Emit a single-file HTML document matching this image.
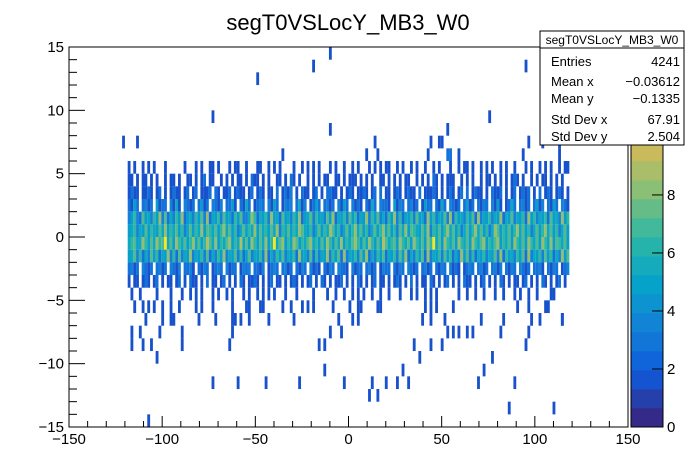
<!DOCTYPE html>
<html><head><meta charset="utf-8">
<style>
html,body{margin:0;padding:0;background:#fff;}
svg{display:block;font-family:"Liberation Sans",sans-serif;}
</style></head>
<body>
<svg id="c" width="698" height="476" viewBox="0 0 698 476">
<rect width="698" height="476" fill="#fff"/>
<text x="348" y="30" font-size="22" text-anchor="middle">segT0VSLocY_MB3_W0</text>
<g id="cells"></g>
<g id="axes"></g>
<g id="cbar"></g>
<g>
<rect x="540" y="31" width="144" height="114" fill="#fff" stroke="#000" stroke-width="1"/>
<line x1="540" y1="48" x2="684" y2="48" stroke="#000"/>
<text x="612" y="44" font-size="12" text-anchor="middle">segT0VSLocY_MB3_W0</text>
<text x="551" y="66" font-size="13">Entries</text>
<text x="680" y="66" font-size="13" text-anchor="end">4241</text>
<text x="551" y="86" font-size="13">Mean x</text>
<text x="680" y="86" font-size="13" text-anchor="end">−0.03612</text>
<text x="551" y="103" font-size="13">Mean y</text>
<text x="680" y="103" font-size="13" text-anchor="end">−0.1335</text>
<text x="551" y="124" font-size="13">Std Dev x</text>
<text x="680" y="124" font-size="13" text-anchor="end">67.91</text>
<text x="551" y="141" font-size="13">Std Dev y</text>
<text x="680" y="141" font-size="13" text-anchor="end">2.504</text>
</g>
</svg>
<script>
// dense rows: y-bin lower edge -> counts per x-bin starting at bin 21 (x=-118.5), bin width 1.5
const denseRowY = [5,4,3,2,1,0,-1,-2,-3,-4];
const denseRows = [
"1.1..1.1.1...1......1...1.1..11.1...1.11..1...11..1.1.1....1..1.1.1.1...1.1..1..1.1...1.1.1.11..1.1..1.1..1..1.1...1..1.11.1..1.1.1..1.1..1...1.1..1.1.1..1.11",
"11.1.11.1.1..1.11.1..11.1.12.11..1.1.1.11.1.211.1.1..11.1.21.1..1.1.1.11..11.1.111.1.1.1..11.1.1.1.11..1.1.1.21.1.111..1.1.1..1.11.1.1.1.121.1..1.1.11.1.1.1",
"1211.1121.12.1.1211.12.12.1112.21.112.1211.12.121.11.2.1213.1.211.12.1.2211.1.121.1121.12.2.11.121.1211.2.11121.1.121.12.2.1211.1.2112.1.12.1212.1.2.121.121.1213",
"2142.2312.4122.3151.3212.2412.3213.2241.2152.1232.3142.1323.2513.1242.2312.3142.3121.2152.3221.4132.2312.1422.2152.3212.2412.2132.3141.1252.2312.2413.2142.3212.234",
"3463274536483725364824536473825463745264733586254638452745364824573645374825463746254836473526483625463745284635473826453647283546354825473546284635462745384625",
"4563547465475846574635746584765746857463574658475647583657465875463574658746357468574635746857463758476547583657468574635746857463587465746857463574685746357468",
"5674586475867c57486574685746975846578465957486475846c57846587465785647586475846578647586475975674865748657486c57486574865748657846578465748657486574865847657486",
"4573625374625483627354835463725364835473624735463825364735462845372635483647283546374825364725463748253647283546374625384736254635473826453647283546374625384736",
"2312.3212.2312.3213.2231.2132.1232.3122.1323.2213.1232.2312.2132.3121.2132.3221.3122.2312.1322.2132.3212.2312.2132.3121.1232.2312.2313.2132.3212.2231.2132.1232.3",
"1.11.121.12.1.11.12.1.211.1.2.11.12.1.1.21.1121.1.12.11.1.121.1.12.1.21.1.112.1.1.21.1.12.11.1.121.1.2.1.11.21.1.12.1.1.211.1.12.1.1.21.1.11.12.1.1.21.1.12.1.11"
];
// sparse outliers: x values, y-bin lower edges, counts
const outX = [-10.5,-19.5,95.4,-49.4,-73.3,76.1,-10.5,53.8,-121,-113.6,14.5,44.6,48.5,50,97,104.5,113,
-34.6,10.3,16.4,42.7,53.5,55,59.5,93.8,113.3,
-116.4,-111.8,-103.1,-95,-89.3,-84.2,-81.3,-78.5,-72.9,-69.9,-66,-61.9,-56.9,-52.7,-48.9,-46,-43.2,-40.3,-33.2,-27.9,-18.3,-10.7,-6.9,-1.9,2.6,5.5,8.4,12.2,17,21.7,27.4,33.2,36,40.8,43.7,46.5,59.9,63.7,68.5,73.2,79,83.7,88.5,92.3,96.1,100.9,108.5,110.4,
-115,-110.7,-107.6,-104.2,-100,-95.2,-91.2,-82.3,-79,-73.3,-61.7,-55.2,-53.7,-47.9,-45.4,-34.8,-31.1,-24.1,-21.1,-19.1,-7.7,1.3,4.6,7.4,16,17.9,41.6,44.7,46.6,56.5,91,96.8,105.9,107.4,
-109.2,-100.4,-94.6,-93.8,-80.7,-72,-62.2,-61.1,-58.2,-53.6,-43.5,-28.7,-4.6,2.6,4.5,40,44.6,51.8,71.3,83.5,98.4,103,114.1,115,
-116.4,-111.8,-101.5,-89.3,-63,-9.2,-3.1,53.4,56.6,59.8,64,67.3,82,96.8,
-116.4,-110.7,-106.1,-89.3,-64.5,-16.4,-13.4,35.8,44.6,50.3,95.2,
-103.1,38.5,77.4,
-12.2,29.4,72.9,
-72.2,-59.9,-44.9,-25.6,-1.6,13.3,20.6,26.7,32.8,70.2,89.3,
11.8,16.4,
86.2,110.2,
-107.6];
const outY = [14,13,13,12,9,9,8,8,7,7,7,7,7,7,7,7,7,
6,6,6,6,6,6,6,6,6,
-5,-5,-5,-5,-5,-5,-5,-5,-5,-5,-5,-5,-5,-5,-5,-5,-5,-5,-5,-5,-5,-5,-5,-5,-5,-5,-5,-5,-5,-5,-5,-5,-5,-5,-5,-5,-5,-5,-5,-5,-5,-5,-5,-5,-5,-5,-5,-5,
-6,-6,-6,-6,-6,-6,-6,-6,-6,-6,-6,-6,-6,-6,-6,-6,-6,-6,-6,-6,-6,-6,-6,-6,-6,-6,-6,-6,-6,-6,-6,-6,-6,-6,
-7,-7,-7,-7,-7,-7,-7,-7,-7,-7,-7,-7,-7,-7,-7,-7,-7,-7,-7,-7,-7,-7,-7,-7,
-8,-8,-8,-8,-8,-8,-8,-8,-8,-8,-8,-8,-8,-8,
-9,-9,-9,-9,-9,-9,-9,-9,-9,-9,-9,
-10,-10,-10,
-11,-11,-11,
-12,-12,-12,-12,-12,-12,-12,-12,-12,-12,-12,
-13,-13,
-14,-14,
-15];
const outC = [1,1,1,1,1,1,1,1,1,1,1,1,1,1,1,1,1, 1,1,1,1,2,2,1,1,1];
const xTicks = [-150,-100,-50,0,50,100,150];
const yTicks = [-15,-10,-5,0,5,10,15];
const zTicks = [0,2,4,6,8];
const zMax = 13.1, nCont = 20;

const NS = "http://www.w3.org/2000/svg";
const FX0=69, FX1=628, FY0=47, FY1=427;
const X = v => FX0 + (v+150)/300*(FX1-FX0);
const Y = v => FY1 - (v+15)/30*(FY1-FY0);
const stops=[0,.125,.25,.375,.5,.625,.75,.875,1];
const R=[.2082,.0592,.0780,.0232,.1802,.5301,.8186,.9956,.9764];
const G=[.1664,.3599,.5041,.6419,.7178,.7492,.7328,.7862,.9832];
const B=[.5293,.8684,.8385,.7914,.6425,.4662,.3499,.1968,.0539];
function bird(f){f=Math.max(0,Math.min(1,f));let i=0;while(i<7&&f>stops[i+1])i++;
 const t=(f-stops[i])/(stops[i+1]-stops[i]);const m=a=>Math.round(255*(a[i]+(a[i+1]-a[i])*t));
 return `rgb(${m(R)},${m(G)},${m(B)})`;}
function bandColor(k){return bird((k+0.99)/nCont);}
function colorOf(v){const k=Math.min(nCont-1,Math.floor(v/(zMax/nCont)));return bandColor(k);}
function mk(tag,attrs,parent){const e=document.createElementNS(NS,tag);for(const k in attrs)e.setAttribute(k,attrs[k]);parent.appendChild(e);return e;}
const cells=document.getElementById('cells');
function cell(bin,yb,v){
 if(v<=0)return;
 const x0=X(-150+1.5*bin), x1=X(-150+1.5*(bin+1));
 const r=mk('rect',{x:x0,y:Y(yb+1),width:x1-x0+0.05,height:Y(yb)-Y(yb+1)+0.05,fill:colorOf(v)},cells);
 
 
}
denseRows.forEach((s,ri)=>{for(let j=0;j<s.length&&j<158;j++){const ch=s[j];if(ch==='.')continue;cell(21+j,denseRowY[ri],parseInt(ch,16));}});
outX.forEach((xv,i)=>{cell(Math.floor((xv+150)/1.5),outY[i],outC[i]!==undefined?outC[i]:1);});

const ax=document.getElementById('axes');
mk('rect',{x:FX0,y:FY0,width:FX1-FX0,height:FY1-FY0,fill:'none',stroke:'#000','stroke-width':1},ax);
for(let v=-150;v<=150;v+=10){const major=v%50===0;const x=X(v);
 mk('line',{x1:x,y1:FY1,x2:x,y2:FY1-(major?11:6),stroke:'#000'},ax);}
xTicks.forEach(v=>{const t=mk('text',{x:X(v),y:444,'font-size':15,'text-anchor':'middle'},ax);t.textContent=v<0?'−'+(-v):String(v);
 
 });
for(let v=-15;v<=15;v+=1){const major=v%5===0;const y=Y(v);
 mk('line',{x1:FX0,y1:y,x2:FX0+(major?16:8),y2:y,stroke:'#000'},ax);}
yTicks.forEach(v=>{const t=mk('text',{x:64,y:Y(v)+5,'font-size':15,'text-anchor':'end'},ax);t.textContent=v<0?'−'+(-v):String(v);
 
 });

const cb=document.getElementById('cbar');
const CX0=631,CX1=663;
for(let k=0;k<nCont;k++){const y0=FY1-(k+1)*(FY1-FY0)/nCont;
 const r=mk('rect',{x:CX0,y:y0,width:CX1-CX0,height:(FY1-FY0)/nCont+0.3,fill:bird(k/(nCont-1))},cb);
 
 }
mk('rect',{x:CX0,y:FY0,width:CX1-CX0,height:FY1-FY0,fill:'none',stroke:'#000'},cb);
const ZY=v=>FY1-v/zMax*(FY1-FY0);
zTicks.forEach(v=>{const y=ZY(v);mk('line',{x1:CX1-11,y1:y,x2:CX1,y2:y,stroke:'#000'},cb);
 const t=mk('text',{x:667,y:y+5,'font-size':15},cb);t.textContent=String(v);
 
 });
</script>
</body></html>
